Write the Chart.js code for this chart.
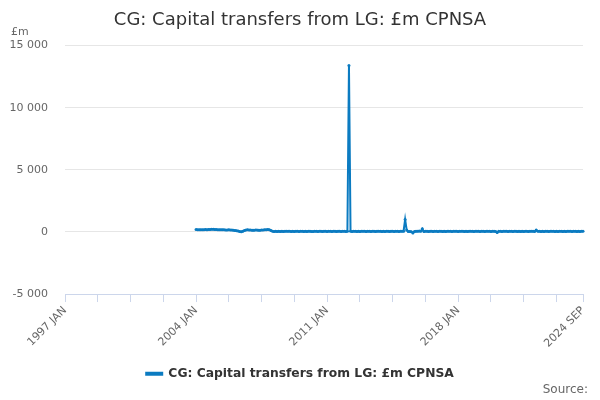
<!DOCTYPE html>
<html>
<head>
<meta charset="utf-8">
<script src="https://cdn.jsdelivr.net/npm/chart.js@4.4.0/dist/chart.umd.min.js"></script>
<style>
  html, body { margin: 0; padding: 0; background: #fff; }
  #wrap { width: 600px; height: 400px; }
</style>
</head>
<body>
<div id="wrap"><canvas id="myChart"></canvas></div>
<script>
// months run 1997 JAN .. 2024 SEP, the series starts 2004 JAN
var monthNames = ['JAN', 'FEB', 'MAR', 'APR', 'MAY', 'JUN', 'JUL', 'AUG', 'SEP', 'OCT', 'NOV', 'DEC'];
var firstYear = 1997;
var lastYear = 2024;
var lastMonth = 9;
var seriesStart = '2004 JAN';

// £m, monthly, 2004 JAN onwards
var values = [
    190, 185, 180, 175, 185, 180, 190, 185, 195, 200, 210, 215,   // 2004
    200, 190, 185, 180, 175, 180, 170, 165, 160, 170, 155, 150,   // 2005
    140, 120, 100, 80, 40, 20, 60, 120, 150, 170, 160, 150,       // 2006
    130, 140, 160, 150, 145, 140, 150, 160, 170, 180, 190, 175,   // 2007
    120, 60, 40, 50, 45, 55, 40, 50, 45, 60, 50, 55,              // 2008
    50, 45, 55, 40, 50, 60, 45, 50, 55, 40, 50, 45,               // 2009
    55, 50, 40, 45, 60, 50, 45, 55, 50, 40, 55, 50,               // 2010
    45, 50, 60, 40, 55, 50, 45, 50, 60, 45, 50, 55,               // 2011
    40, 50, 13400, 60, 45, 50, 55, 40, 50, 45, 60, 50,            // 2012
    55, 45, 60, 50, 40, 55, 50, 45, 60, 50, 55, 40,               // 2013
    50, 45, 55, 60, 40, 50, 55, 45, 50, 60, 45, 55,               // 2014
    50, 60, 1000, 150, 40, 30, 20, -80, 40, 60, 50, 70,           // 2015
    60, 250, 30, 50, 60, 40, 55, 50, 45, 60, 50, 40,              // 2016
    55, 60, 45, 50, 40, 55, 60, 50, 45, 55, 50, 60,               // 2017
    45, 50, 60, 55, 40, 50, 45, 60, 55, 50, 40, 55,               // 2018
    60, 50, 45, 55, 50, 40, 60, 55, 50, 45, 60, 50,               // 2019
    40, -40, 60, 50, 45, 60, 55, 50, 40, 55, 60, 45,              // 2020
    50, 60, 45, 55, 40, 50, 30, 60, 55, 45, 50, 60,               // 2021
    55, 40, 150, 60, 50, 45, 55, 40, 50, 60, 45, 50,              // 2022
    55, 50, 40, 60, 45, 50, 55, 40, 50, 45, 60, 55,               // 2023
    50, 45, 60, 55, 40, 50, 45, 55, 50                            // 2024
];

var yTicks = [-5000, 0, 5000, 10000, 15000];

var labels = [];
for (var y = firstYear; y <= lastYear; y++) {
    for (var m = 0; m < 12; m++) {
        if (y == lastYear && m >= lastMonth) break;
        labels.push(y + ' ' + monthNames[m]);
    }
}
var startIdx = labels.indexOf(seriesStart);
var data = labels.map(function (l, i) {
    return i < startIdx ? null : values[i - startIdx];
});
var lastIdx = labels.length - 1;

function fmt(v) {
    var s = String(Math.abs(v)).replace(/\B(?=(\d{3})+(?!\d))/g, ' ');
    return (v < 0 ? '-' : '') + s;
}

// "£m" unit over the y axis and the "Source:" note
var extraText = {
    id: 'extraText',
    afterDraw: function (chart) {
        var c = chart.ctx;
        c.save();
        c.textBaseline = 'middle';
        c.font = '11px "DejaVu Sans"';
        c.fillStyle = '#666666';
        c.textAlign = 'left';
        c.fillText('£m', 11, 32);
        c.font = '12px "DejaVu Sans"';
        c.textAlign = 'right';
        c.fillText('Source:', 588, 390);
        c.restore();
    }
};

Chart.defaults.font.family = '"DejaVu Sans", sans-serif';

var ctx = document.getElementById('myChart').getContext('2d');
new Chart(ctx, {
    type: 'line',
    data: {
        labels: labels,
        datasets: [{
            label: 'CG: Capital transfers from LG: £m CPNSA',
            data: data,
            yAxisID: 'y',
            borderColor: '#0b7bc1',
            backgroundColor: '#0b7bc1',
            borderWidth: 2,
            pointRadius: 1.5,
            pointHoverRadius: 3,
            pointBorderWidth: 0,
            tension: 0,
            spanGaps: false
        }]
    },
    plugins: [extraText],
    options: {
        responsive: true,
        maintainAspectRatio: false,
        animation: false,
        layout: { padding: { left: 0, right: 0, top: 0, bottom: 10 } },
        plugins: {
            title: {
                display: true,
                text: 'CG: Capital transfers from LG: £m CPNSA',
                color: '#333333',
                font: { size: 18, weight: 'normal' },
                padding: { top: 10, bottom: 14 }
            },
            legend: {
                position: 'bottom',
                labels: {
                    color: '#333333',
                    font: { size: 12.3, weight: 'bold' },
                    boxWidth: 16,
                    boxHeight: 2,
                    padding: 15.5
                }
            },
            tooltip: { enabled: false }
        },
        scales: {
            x: {
                type: 'category',
                offset: false,
                grid: {
                    drawOnChartArea: false,
                    drawTicks: true,
                    tickLength: 8,
                    color: '#ccd6eb'
                },
                border: { color: '#ccd6eb' },
                afterBuildTicks: function (scale) {
                    scale.ticks = scale.ticks.filter(function (t) {
                        return t.value % 21 == 0 || t.value == lastIdx;
                    });
                },
                ticks: {
                    autoSkip: false,
                    minRotation: 45,
                    maxRotation: 45,
                    color: '#666666',
                    font: { size: 11 },
                    padding: 2,
                    callback: function (value) {
                        if (value % 84 == 0 || value == lastIdx) return labels[value];
                        return '';
                    }
                }
            },
            y: {
                min: -5000,
                max: 15000,
                afterBuildTicks: function (scale) {
                    scale.ticks = yTicks.map(function (v) { return { value: v }; });
                },
                afterFit: function (scale) { scale.width = 65; },
                grid: { color: '#e6e6e6', drawTicks: false },
                border: { display: false },
                ticks: {
                    color: '#666666',
                    font: { size: 11 },
                    padding: 17,
                    callback: function (v) { return fmt(v); }
                }
            },
            // empty right margin so the plot stops at the same place
            yRight: {
                type: 'linear',
                position: 'right',
                grid: { display: false },
                border: { display: false },
                ticks: { display: false },
                afterFit: function (scale) { scale.width = 17; }
            }
        }
    }
});
</script>
</body>
</html>
